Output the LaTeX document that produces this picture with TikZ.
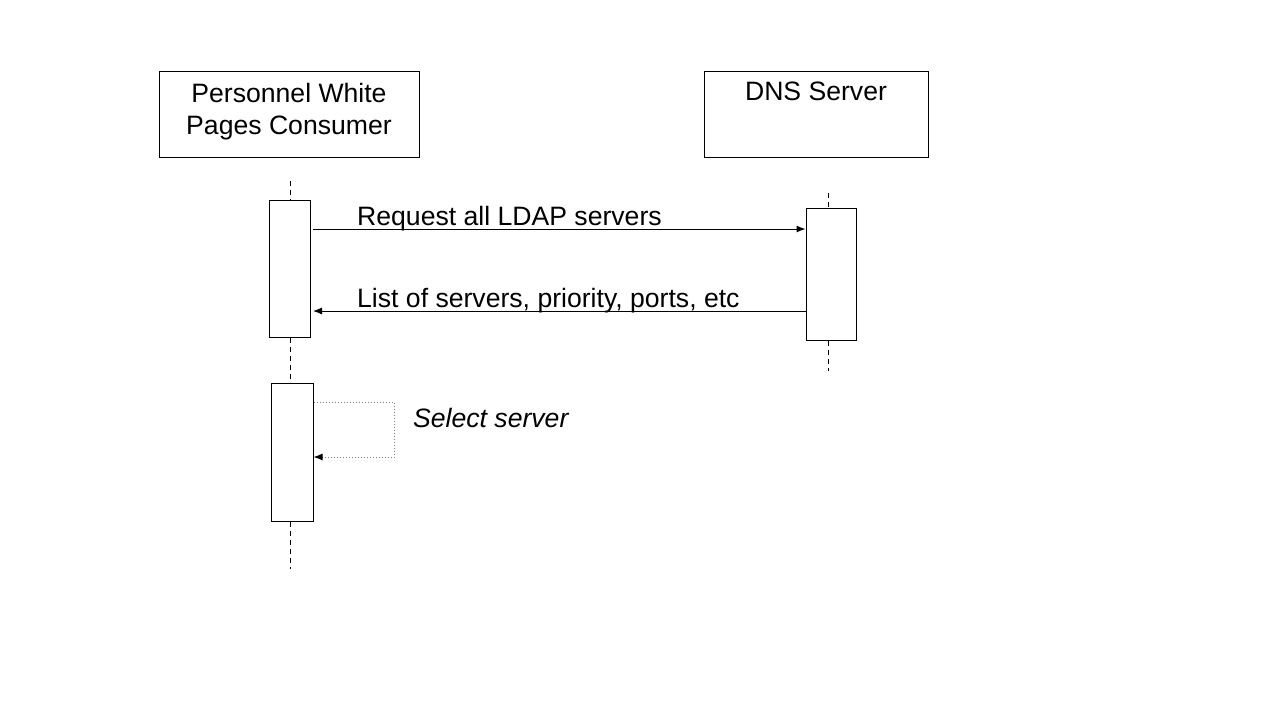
\documentclass[tikz,border=0pt]{standalone}
\usepackage{fontspec}
\setmainfont{Liberation Sans}
\usetikzlibrary{positioning, arrows.meta}
\tikzset{
  x=1pt, y=-1pt, % one unit is one pixel of the slide, y runs downwards
  >={Latex[length=9pt, width=7pt]}, % small filled arrow heads
  every node/.style={font=\fontsize{26.6}{32}\selectfont},
  actor/.style={draw, line width=1pt, inner sep=0pt}, % the two participant boxes
  activation/.style={draw, line width=1pt, fill=white, inner sep=0pt}, % execution bars
  lifeline/.style={line width=1pt, dash pattern=on 5pt off 4pt},
  msg/.style={->, line width=1pt},
  selfmsg/.style={-{Latex[length=9pt, width=7pt, color=black]}, line width=1pt, gray, dotted},
  msgtext/.style={anchor=base west, inner sep=0pt},
}
\begin{document}
\begin{tikzpicture}
  \useasboundingbox (0,0) rectangle (1280,720);

  % participants
  \node[actor, minimum width=260pt, minimum height=86pt, align=center, text depth=10pt] (cons) at (289,114) {Personnel White\\Pages Consumer};
  \node[actor, minimum width=224pt, minimum height=86pt] (dns) at (816,114) {};
  \node[anchor=base, inner sep=0pt] (dnstext) at (816,100) {DNS Server};

  % activation bars
  \node[activation, minimum width=41pt, minimum height=137pt] (act1) at (289.5,268.5) {};
  \node[activation, minimum width=42pt, minimum height=138pt] (act1b) at (292,452) {};
  \node[activation, minimum width=50pt, minimum height=132pt] (act2) at (831,274) {};

  % lifelines
  \coordinate (life1) at (290,181);
  \coordinate (life2) at (828,193);
  \draw[lifeline] (life1) -- (life1 |- act1.north);
  \draw[lifeline] (life1 |- act1.south) -- (life1 |- act1b.north);
  \draw[lifeline] (life1 |- act1b.south) -- ++(0,47);
  \draw[lifeline] (life2) -- (life2 |- act2.north);
  \draw[lifeline] (life2 |- act2.south) -- ++(0,30);

  % messages
  \coordinate (reqstart) at (313,229);
  \coordinate (lstend) at (313,311);
  \draw[msg] (reqstart) -- (act2.west |- reqstart);
  \draw[msg] (act2.west |- lstend) -- (lstend);
  \node[msgtext] (reqtext) at (357,225) {Request all LDAP servers};
  \node[msgtext] (lsttext) at (357,307) {List of servers, priority, ports, etc};

  % self message
  \coordinate (loopa) at (394,402);
  \coordinate (loopb) at (394,457);
  \draw[selfmsg] (act1b.east |- loopa) -- (loopa) -- (loopb) -- (act1b.east |- loopb);
  \node[msgtext, font=\fontsize{26.6}{32}\selectfont\itshape] (seltext) at (413,427) {Select server};
\end{tikzpicture}
\end{document}
